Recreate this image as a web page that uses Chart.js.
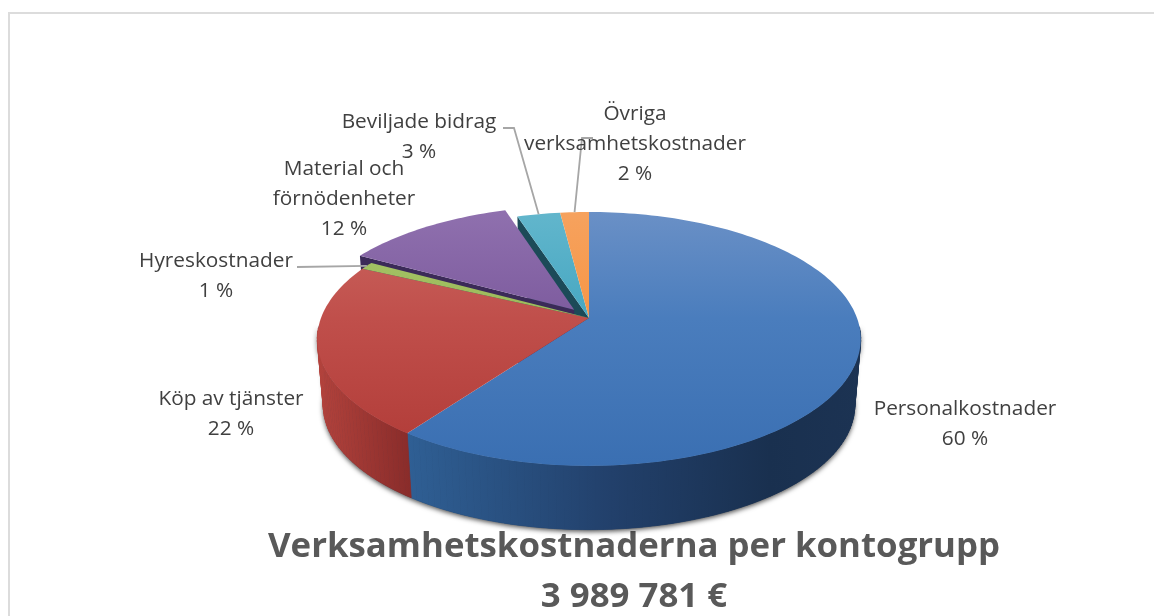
<!DOCTYPE html>
<html lang="sv">
<head>
<meta charset="utf-8">
<title>Verksamhetskostnaderna per kontogrupp</title>
<script src="https://cdn.jsdelivr.net/npm/chart.js@4"></script>
<style>
  html, body { margin: 0; padding: 0; background: #fff; overflow: hidden; height: 616px; }
  #ram { position: absolute; left: 8px; top: 12px; right: 0; bottom: 0; border-left: 2px solid #dcdcdc; border-top: 2px solid #dcdcdc; }
  #kostnader { position: absolute; left: 0; top: 0; }
</style>
</head>
<body>
<div id="ram"></div>
<canvas id="kostnader" width="1154" height="624"></canvas>
<script>
// === Data
const categories = ["Personalkostnader", "Köp av tjänster", "Hyreskostnader", "Material och förnödenheter", "Beviljade bidrag", "Övriga verksamhetskostnader"];
const values = [60, 22, 1, 12, 3, 2];
const titleLines = ["Verksamhetskostnaderna per kontogrupp", "3 989 781 €"];

// === Colours per slice
const baseColors = ["#4a7dbd", "#c04f4b", "#9bbb59", "#7d5b9e", "#46a7c2", "#f79646"];
const topColors = ["#6a90c6", "#cb6660", "#a8c56c", "#8f70ae", "#62b6cc", "#f6a25e"];
const bottomColors = ["#3a6fb2", "#b03a36", "#8fb04a", "#6b4b90", "#35a0bd", "#f68b2c"];
const edgeColors = [null, null, null, "#3b2a58", "#1c4a58", null];

// === Camera of the tilted pie
const cam = { cx: 589, cy: 318, rx: 268, ry: 123.5, k: -0.165, depth: 67, shrink: 0.978 };

function project(u, v, low) {
  const w = 1 + cam.k * v;
  const s = low ? cam.shrink : 1;
  return [cam.cx + s * cam.rx * u / w, cam.cy + s * cam.ry * v / w + (low ? cam.depth : 0)];
}

function arcPoints(el, low) {
  const d = (el.options.offset || 0) / el.outerRadius;
  const mid = (el.startAngle + el.endAngle) / 2;
  const ox = d * Math.cos(mid), oy = d * Math.sin(mid);
  const steps = Math.max(4, Math.ceil((el.endAngle - el.startAngle) * 40));
  const pts = [], front = [];
  for (let i = 0; i <= steps; i++) {
    const a = el.startAngle + (el.endAngle - el.startAngle) * i / steps;
    pts.push(project(Math.cos(a) + ox, Math.sin(a) + oy, low));
    front.push(Math.sin(a) > 0.06);
  }
  return { pts, front, apex: project(ox, oy, low) };
}

function polygon(ctx, pts) {
  ctx.beginPath();
  pts.forEach((p, i) => (i ? ctx.lineTo(p[0], p[1]) : ctx.moveTo(p[0], p[1])));
  ctx.closePath();
}

// === 3D drawing of the arcs that Chart.js has laid out
const pie3d = {
  id: "pie3d",
  beforeDatasetDraw(chart) {
    const ctx = chart.ctx;
    const arcs = chart.getDatasetMeta(0).data;
    ctx.save();

    // shadow under the front half of the pie
    const frontUp = [], frontDown = [];
    for (let i = 0; i <= 80; i++) {
      const a = 0.06 + (Math.PI - 0.12) * i / 80;
      frontUp.push(project(Math.cos(a), Math.sin(a), false));
      frontDown.push(project(Math.cos(a), Math.sin(a), true));
    }
    ctx.shadowColor = "rgba(0,0,0,0.7)";
    ctx.shadowBlur = 5;
    ctx.shadowOffsetY = 2;
    ctx.fillStyle = "#1b3150";
    polygon(ctx, frontUp.concat(frontDown.reverse()));
    ctx.fill();
    ctx.shadowColor = "transparent";
    ctx.shadowBlur = 0;
    ctx.shadowOffsetY = 0;

    // outer walls, one small quad at a time, only on the side facing us
    const blueWall = ctx.createLinearGradient(408, 0, 861, 0);
    blueWall.addColorStop(0, "#2f5f94");
    blueWall.addColorStop(0.45, "#22406b");
    blueWall.addColorStop(0.8, "#19304f");
    blueWall.addColorStop(1, "#1c3353");
    const redWall = ctx.createLinearGradient(320, 0, 410, 0);
    redWall.addColorStop(0, "#b2423c");
    redWall.addColorStop(1, "#892c2a");
    const wallFill = [blueWall, redWall, "#7c9a3f", "#4b3570", "#2c7f95", "#c06f28"];
    arcs.forEach((el, i) => {
      const up = arcPoints(el, false);
      const down = arcPoints(el, true).pts;
      ctx.fillStyle = wallFill[i];
      ctx.strokeStyle = wallFill[i];
      ctx.lineWidth = 0.7;
      for (let n = 0; n < up.pts.length - 1; n++) {
        if (!up.front[n] || !up.front[n + 1]) continue;
        polygon(ctx, [up.pts[n], up.pts[n + 1], down[n + 1], down[n]]);
        ctx.fill();
        ctx.stroke();
      }
    });

    // inner walls that show through the gap of the pulled out slice
    [4, 3].forEach(i => {
      const up = arcPoints(arcs[i], false);
      const down = arcPoints(arcs[i], true);
      ctx.fillStyle = edgeColors[i];
      polygon(ctx, [up.apex, up.pts[0], down.pts[0], down.apex]);
      ctx.fill();
    });

    // top faces
    [0, 1, 2, 4, 5, 3].forEach(i => {
      const shape = arcPoints(arcs[i], false);
      const g = ctx.createLinearGradient(0, 212, 0, 466);
      g.addColorStop(0, topColors[i]);
      g.addColorStop(0.42, baseColors[i]);
      g.addColorStop(1, bottomColors[i]);
      ctx.fillStyle = g;
      polygon(ctx, [shape.apex].concat(shape.pts));
      ctx.fill();
    });
    ctx.restore();
    return false;
  }
};

// === Label places: center x, first line y, and where the leader line starts
const labelPlaces = [
  { x: 965, y: 409, lines: ["Personalkostnader"] },
  { x: 231, y: 399, lines: ["Köp av tjänster"] },
  { x: 216, y: 261, lines: ["Hyreskostnader"], leader: [[297, 267]] },
  { x: 344, y: 169, lines: ["Material och", "förnödenheter"] },
  { x: 419, y: 122, lines: ["Beviljade bidrag"], leader: [[503, 128], [514, 128]] },
  { x: 635, y: 114, lines: ["Övriga", "verksamhetskostnader"], leader: [[593, 138], [582, 138]] }
];

const sliceLabels = {
  id: "sliceLabels",
  afterDatasetsDraw(chart) {
    const ctx = chart.ctx;
    const arcs = chart.getDatasetMeta(0).data;
    ctx.save();
    ctx.font = '20.8px "Open Sans", sans-serif';
    ctx.textAlign = "center";
    ctx.textBaseline = "middle";
    labelPlaces.forEach((place, i) => {
      if (place.leader) {
        const mid = (arcs[i].startAngle + arcs[i].endAngle) / 2;
        const end = project(Math.cos(mid), Math.sin(mid), false);
        ctx.strokeStyle = "#a6a6a6";
        ctx.lineWidth = 1.8;
        ctx.beginPath();
        place.leader.concat([end]).forEach((p, n) => (n ? ctx.lineTo(p[0], p[1]) : ctx.moveTo(p[0], p[1])));
        ctx.stroke();
      }
      ctx.fillStyle = "#404040";
      place.lines.concat([values[i] + " %"]).forEach((text, n) => {
        ctx.fillText(text, place.x, place.y + n * 30);
      });
    });
    ctx.restore();
  }
};

new Chart(document.getElementById("kostnader"), {
  type: "pie",
  data: {
    labels: categories,
    datasets: [{
      data: values,
      backgroundColor: baseColors,
      borderWidth: 0,
      offset: c => (c.dataIndex === 3 ? 22 : 0)
    }]
  },
  options: {
    responsive: false,
    animation: false,
    layout: { padding: { left: 114 } },
    plugins: {
      legend: { display: false },
      tooltip: { enabled: false },
      title: {
        display: true,
        position: "bottom",
        text: titleLines,
        color: "#595959",
        font: { family: '"Open Sans", sans-serif', size: 34.8, weight: "bold", lineHeight: 1.43 },
        padding: { top: 0, bottom: 2 }
      }
    }
  },
  plugins: [pie3d, sliceLabels]
});
</script>
</body>
</html>
